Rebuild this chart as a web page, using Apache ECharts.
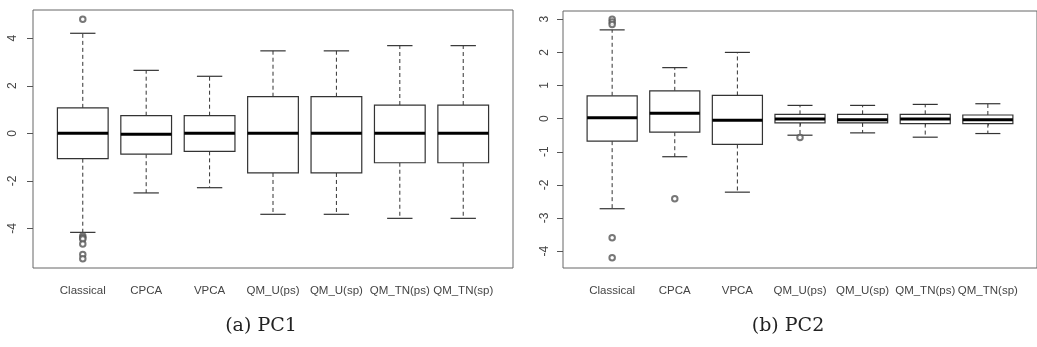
<!DOCTYPE html>
<html>
<head>
<meta charset="utf-8">
<script src="https://cdn.jsdelivr.net/npm/echarts@6/dist/echarts.min.js"></script>
<style>
  html, body { margin: 0; padding: 0; background: #fff; }
  #chart { width: 1037px; height: 347px; }
</style>
</head>
<body>
<div id="chart"></div>
<script>
// categories
const categories = ['Classical', 'CPCA', 'VPCA', 'QM_U(ps)', 'QM_U(sp)', 'QM_TN(ps)', 'QM_TN(sp)']

// boxplot stats: [lower whisker, Q1, median, Q3, upper whisker]
const pc1Box = [
  [-4.17, -1.07, 0.00, 1.07, 4.21],
  [-2.51, -0.88, -0.04, 0.74, 2.65],
  [-2.29, -0.76, 0.00, 0.74, 2.40],
  [-3.41, -1.67, 0.00, 1.54, 3.47],
  [-3.41, -1.67, 0.00, 1.54, 3.47],
  [-3.58, -1.24, 0.00, 1.19, 3.69],
  [-3.58, -1.24, 0.00, 1.19, 3.69]
]
// outliers: [category index (1-based), value]
const pc1Outliers = [
  [1, 4.80], [1, -4.32], [1, -4.40], [1, -4.45], [1, -4.66], [1, -5.10], [1, -5.28]
]

const pc2Box = [
  [-2.72, -0.68, 0.03, 0.69, 2.68],
  [-1.15, -0.41, 0.16, 0.84, 1.54],
  [-2.22, -0.78, -0.05, 0.70, 2.00],
  [-0.50, -0.13, -0.01, 0.13, 0.40],
  [-0.43, -0.13, -0.03, 0.13, 0.40],
  [-0.56, -0.15, -0.01, 0.13, 0.43],
  [-0.45, -0.15, -0.03, 0.11, 0.45]
]
const pc2Outliers = [
  [1, 3.00], [1, 2.92], [1, 2.84], [1, -3.60], [1, -4.20], [2, -2.42], [4, -0.57]
]

const pc1Ticks = [-4, -2, 0, 2, 4]
const pc2Ticks = [-4, -3, -2, -1, 0, 1, 2, 3]
const catPos = categories.map((_, i) => i + 1)

const X_MIN = 0.215
const X_MAX = 7.785

const chart = echarts.init(document.getElementById('chart'))

const lineCol = '#333'
const textCol = '#444'

// 画箱线图
const renderBox = (params, api) => {
  const x = api.value(0)
  const lo = api.value(1), q1 = api.value(2), med = api.value(3), q3 = api.value(4), hi = api.value(5)
  const boxW = 0.4, capW = 0.2
  const pl = api.coord([x - boxW, q3])
  const pr = api.coord([x + boxW, q1])
  const c = (xx, yy) => api.coord([xx, yy])
  const dash = { stroke: lineCol, lineWidth: 1, lineDash: [4, 3] }
  const solid = { stroke: lineCol, lineWidth: 1.2 }
  return {
    type: 'group',
    children: [
      { type: 'line', shape: { x1: c(x, q3)[0], y1: c(x, q3)[1], x2: c(x, hi)[0], y2: c(x, hi)[1] }, style: dash },
      { type: 'line', shape: { x1: c(x, q1)[0], y1: c(x, q1)[1], x2: c(x, lo)[0], y2: c(x, lo)[1] }, style: dash },
      { type: 'line', shape: { x1: c(x - capW, hi)[0], y1: c(x, hi)[1], x2: c(x + capW, hi)[0], y2: c(x, hi)[1] }, style: solid },
      { type: 'line', shape: { x1: c(x - capW, lo)[0], y1: c(x, lo)[1], x2: c(x + capW, lo)[0], y2: c(x, lo)[1] }, style: solid },
      { type: 'rect', shape: { x: pl[0], y: pl[1], width: pr[0] - pl[0], height: pr[1] - pl[1] }, style: { fill: '#fff', stroke: lineCol, lineWidth: 1.2 } },
      { type: 'line', shape: { x1: pl[0], y1: c(x, med)[1], x2: pr[0], y2: c(x, med)[1] }, style: { stroke: '#000', lineWidth: 3 } }
    ]
  }
}

const xAxisBase = (gridIndex) => ({
  type: 'value',
  gridIndex,
  min: X_MIN,
  max: X_MAX,
  splitLine: { show: false },
  axisLine: { show: false },
  axisTick: { show: true, customValues: catPos, length: 7, lineStyle: { color: '#555' } },
  axisLabel: {
    customValues: catPos,
    margin: 17,
    color: textCol,
    fontSize: 11.5,
    fontFamily: "'Liberation Sans Narrow', 'Liberation Sans', Arial, sans-serif",
    formatter: (v) => categories[Math.round(v) - 1] || ''
  }
})

// 纵轴: 标签旋转90度 (R 默认样式)
const yAxisBase = (gridIndex, min, max, ticks, margin) => ({
  type: 'value',
  gridIndex,
  min,
  max,
  splitLine: { show: false },
  axisLine: { show: false },
  axisTick: { show: true, customValues: ticks, length: 6, lineStyle: { color: '#555' } },
  axisLabel: {
    customValues: ticks,
    rotate: 90,
    margin,
    color: textCol,
    fontSize: 12,
    fontFamily: "'Liberation Sans', Arial, sans-serif"
  }
})

const boxData = (rows) => rows.map((r, i) => [i + 1, ...r])

const outlierStyle = {
  type: 'scatter',
  symbol: 'emptyCircle',
  symbolSize: 5.5,
  itemStyle: { color: '#555', borderWidth: 0.8 }
}

const option = {
  backgroundColor: '#fff',
  animation: false,
  grid: [
    { left: 33, top: 10, width: 480, height: 258, show: true, borderColor: '#666', borderWidth: 1, backgroundColor: 'transparent' },
    { left: 563, top: 11, width: 482, height: 257, show: true, borderColor: '#666', borderWidth: 1, backgroundColor: 'transparent' }
  ],
  xAxis: [xAxisBase(0), xAxisBase(1)],
  yAxis: [
    yAxisBase(0, -5.67, 5.19, pc1Ticks, 14),
    yAxisBase(1, -4.51, 3.25, pc2Ticks, 12)
  ],
  series: [
    {
      type: 'custom',
      xAxisIndex: 0,
      yAxisIndex: 0,
      renderItem: renderBox,
      encode: { x: 0, y: [1, 2, 3, 4, 5] },
      data: boxData(pc1Box),
      clip: false
    },
    { ...outlierStyle, xAxisIndex: 0, yAxisIndex: 0, data: pc1Outliers },
    {
      type: 'custom',
      xAxisIndex: 1,
      yAxisIndex: 1,
      renderItem: renderBox,
      encode: { x: 0, y: [1, 2, 3, 4, 5] },
      data: boxData(pc2Box),
      clip: false
    },
    { ...outlierStyle, xAxisIndex: 1, yAxisIndex: 1, data: pc2Outliers }
  ],
  graphic: [
    {
      type: 'text', x: 261, y: 326,
      style: { text: '(a) PC1', fill: '#222', font: "19px 'DejaVu Serif', 'Liberation Serif', serif", textAlign: 'center', textVerticalAlign: 'middle' }
    },
    {
      type: 'text', x: 788, y: 326,
      style: { text: '(b) PC2', fill: '#222', font: "19px 'DejaVu Serif', 'Liberation Serif', serif", textAlign: 'center', textVerticalAlign: 'middle' }
    }
  ]
}

chart.setOption(option)
</script>
</body>
</html>
